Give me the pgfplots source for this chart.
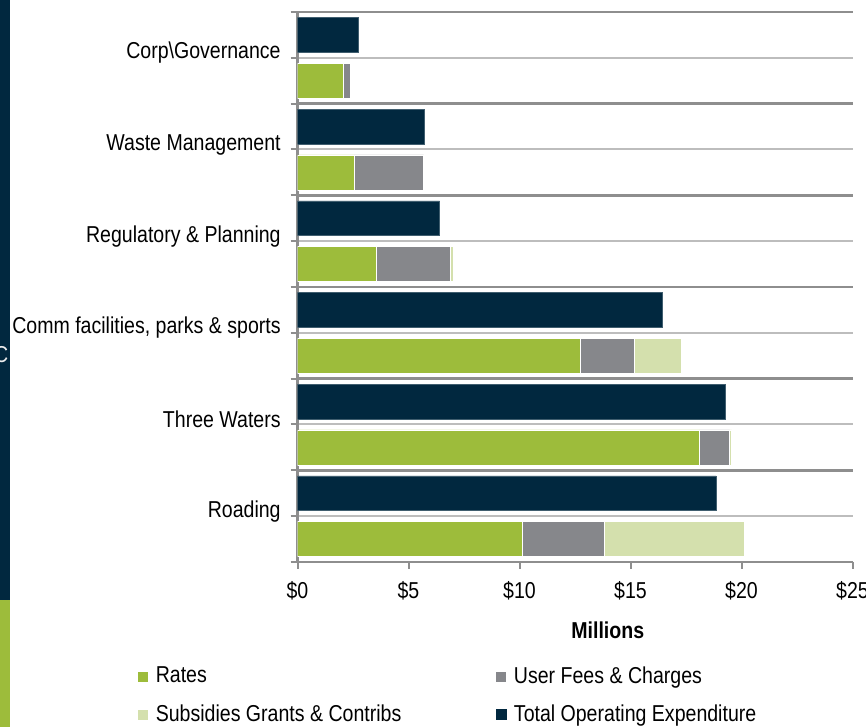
\documentclass[border=0pt]{standalone}
\usepackage{pgfplots}
\usepackage{pgfplotstable}
\pgfplotsset{compat=1.18}
\usepackage{fontspec}
\setmainfont{Liberation Sans}[FakeStretch=0.85]
\definecolor{rates}{HTML}{9DBC3B}
\definecolor{fees}{HTML}{86878B}
\definecolor{subs}{HTML}{D4E0AD}
\definecolor{navy}{HTML}{01283F}
\definecolor{gridd}{HTML}{8E8E8E}
\definecolor{gridl}{HTML}{BDBDBD}

\pgfplotstableread{
k rates fees subs total
0 10.12 3.71 6.29 18.86
1 18.12 1.34 0.10 19.29
2 12.72 2.43 2.12 16.42
3 3.54 3.36 0.14 6.40
4 2.55 3.13 0.00 5.69
5 2.06 0.31 0.00 2.73
}\datatable

\begin{document}
\fontsize{23}{26}\selectfont
\begin{tikzpicture}[x=1pt,y=1pt]
\useasboundingbox (0,0) rectangle (866,727);
\fill[navy] (0,127) rectangle (10,727);
\fill[rates] (0,0) rectangle (10,127);
\node[anchor=west, text=white!85!gray, inner sep=0pt] at (-6,372) {C};
\begin{axis}[
  at={(297.5pt,165pt)}, anchor=south west, scale only axis,
  width=555pt, height=550pt,
  xmin=0, xmax=25, ymin=-0.5, ymax=5.5,
  xbar stacked, bar width=0.38,
  axis x line*=bottom, axis y line*=left,
  axis line style={gridd, line width=2.5pt},
  tick align=outside,
  major tick length=7pt,
  tick style={gridd, line width=2pt},
  xtick={0,5,10,15,20,25},
  xticklabels={\$0,\$5,\$10,\$15,\$20,\$25},
  xticklabel style={yshift=-5pt},
  ytick={0,1,2,3,4,5},
  yticklabels={Roading, Three Waters, {Comm facilities, parks \& sports}, Regulatory \& Planning, Waste Management, Corp\textbackslash Governance},
  yticklabel style={yshift=5pt, xshift=-2pt},
  ymajorgrids,
  major grid style={gridl, line width=2pt},
  extra y ticks={-0.5,0.5,1.5,2.5,3.5,4.5,5.5},
  extra y tick labels={},
  extra y tick style={grid=major, major grid style={gridd, line width=2.5pt}},
  xlabel={\textbf{Millions}},
  xlabel style={at={(axis description cs:0.559,-0.1236)}, anchor=center},
  legend columns=2,
  legend style={at={(axis description cs:-0.2892,-0.186)}, anchor=north west, draw=none, fill=none, inner sep=0pt, row sep=14pt, cells={anchor=west}},
  /tikz/every even column/.append style={column sep=87pt},
  legend image code/.code={\fill[#1] (0pt,-5.5pt) rectangle (11pt,5.5pt);},
  legend style={nodes={inner xsep=7pt}},
]
\addplot[fill=rates, draw=white, line width=0.6pt] table[x=rates, y expr=\thisrow{k}-0.25] {\datatable};
\addplot[fill=fees, draw=white, line width=0.6pt] table[x=fees, y expr=\thisrow{k}-0.25] {\datatable};
\addplot[fill=subs, draw=white, line width=0.6pt] table[x=subs, y expr=\thisrow{k}-0.25] {\datatable};
\addlegendimage{fill=navy, draw=none}
\legend{Rates, User Fees \& Charges, Subsidies Grants \& Contribs, Total Operating Expenditure}
\end{axis}
\begin{axis}[
  at={(297.5pt,165pt)}, anchor=south west, scale only axis,
  width=555pt, height=550pt,
  xmin=0, xmax=25, ymin=-0.5, ymax=5.5,
  hide axis, xbar, bar width=0.38, bar shift=0pt,
]
\addplot[fill=navy, draw=navy!75!white, line width=0.6pt] table[x=total, y expr=\thisrow{k}+0.25] {\datatable};
\end{axis}
\end{tikzpicture}
\end{document}
